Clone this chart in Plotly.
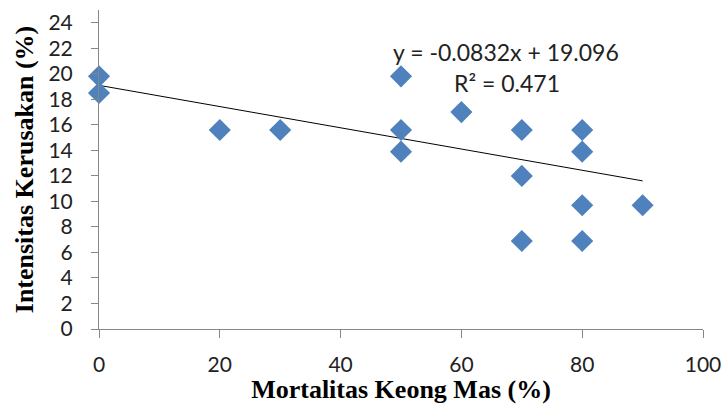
import plotly.graph_objects as go

# Data
mortalitas = [0, 0, 20, 30, 50, 50, 50, 60, 70, 70, 70, 80, 80, 80, 80, 90]
intensitas = [19.8, 18.5, 15.6, 15.6, 19.8, 15.6, 13.9, 17.0, 15.6, 12.0, 6.9, 15.6, 13.9, 9.7, 6.9, 9.7]
slope = -0.0832
intercept = 19.096
r_squared = 0.471
x_ticks = [0, 20, 40, 60, 80, 100]
y_ticks = list(range(0, 25, 2))

trend_x = [min(mortalitas), max(mortalitas)]
trend_y = [intercept + slope * v for v in trend_x]

fig = go.Figure()
fig.add_trace(go.Scatter(
    x=trend_x, y=trend_y, mode="lines",
    line=dict(color="black", width=1), hoverinfo="skip", showlegend=False,
    cliponaxis=False,
))
fig.add_trace(go.Scatter(
    x=mortalitas, y=intensitas, mode="markers",
    marker=dict(symbol="diamond", size=17, color="#4F81BD", line=dict(width=0)),
    showlegend=False, cliponaxis=False,
))

tick_font = dict(family="Lato, Open Sans, sans-serif", size=21, color="#222222")
title_font = dict(family="Liberation Serif, Times New Roman, serif", size=26, color="black")

fig.update_xaxes(
    range=[0, 100], tickvals=x_ticks, ticks="outside", ticklen=8, tickcolor="#868686",
    showline=True, linecolor="#868686", linewidth=1, showgrid=False, zeroline=False,
    tickfont=tick_font, automargin=False, ticklabelstandoff=9,
    title=dict(text="<b>Mortalitas Keong Mas (%)</b>", font=title_font, standoff=10),
)
fig.update_yaxes(
    range=[0, 25], tickvals=y_ticks, ticks="outside", ticklen=7, tickcolor="#868686",
    showline=True, linecolor="#868686", linewidth=1, showgrid=False, zeroline=False,
    tickfont=tick_font, automargin=False, ticklabelstandoff=14,
    title=dict(text="<b>Intensitas Kerusakan (%)</b>", font=title_font, standoff=7),
)

ann_font = dict(family="Lato, Open Sans, sans-serif", size=23, color="#222222")
fig.add_annotation(
    xref="paper", yref="paper", x=0.674, y=0.868, xanchor="center", yanchor="middle",
    text=f"y = {slope}x + {intercept}", showarrow=False, font=ann_font,
)
fig.add_annotation(
    xref="paper", yref="paper", x=0.676, y=0.771, xanchor="center", yanchor="middle",
    text=f"R² = {r_squared}", showarrow=False, font=ann_font,
)

fig.update_layout(
    width=725, height=404,
    margin=dict(l=99, r=22, t=10, b=75),
    paper_bgcolor="white", plot_bgcolor="white",
)

fig.write_html("out.html", config={"displayModeBar": False},
               post_script="document.body.style.margin='0';")
